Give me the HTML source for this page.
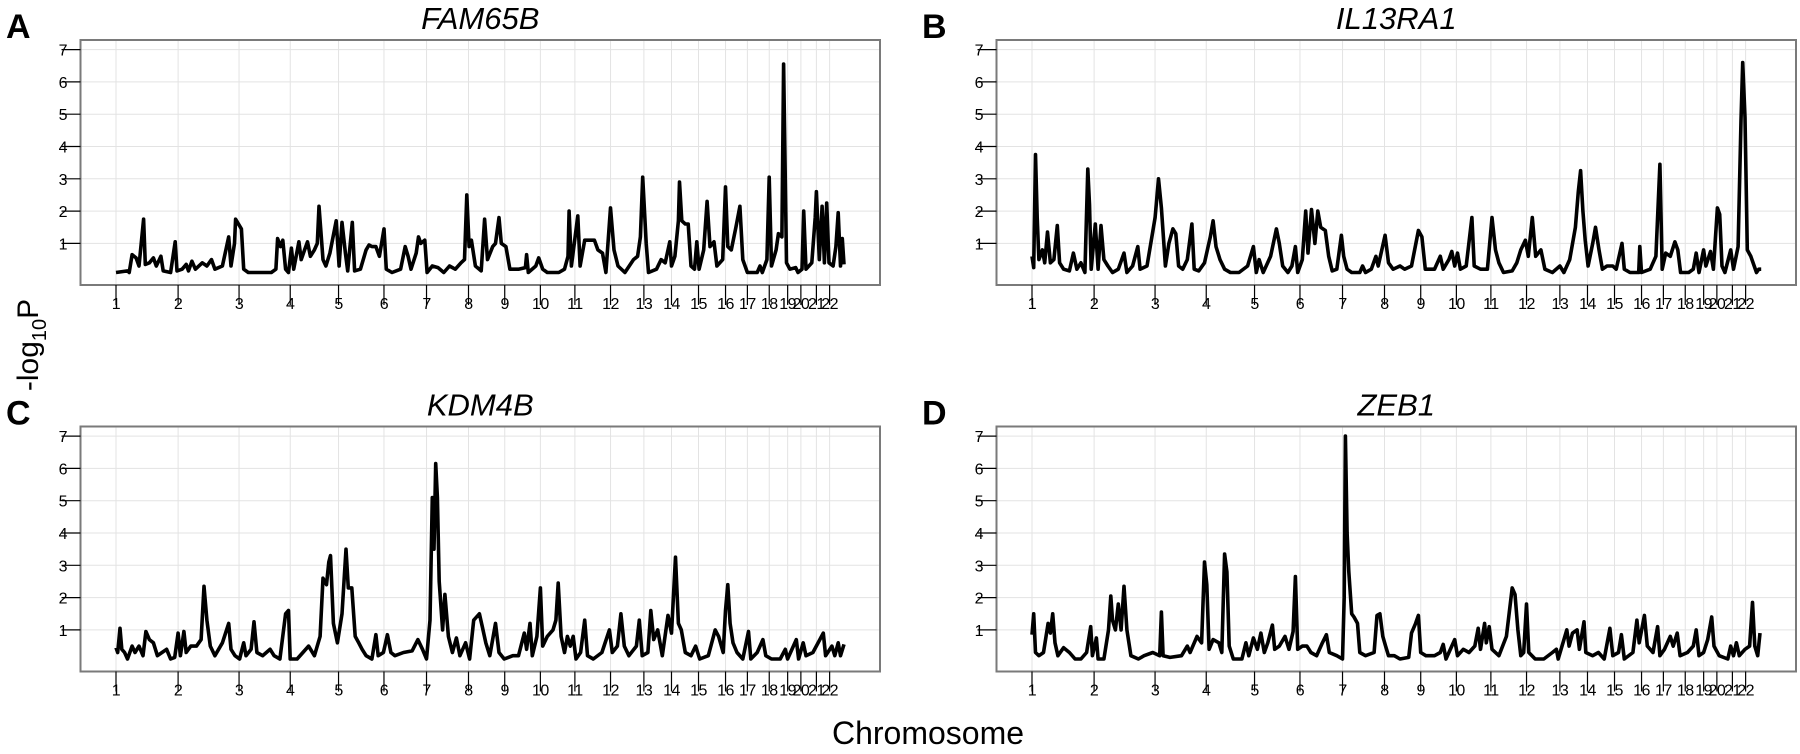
<!DOCTYPE html>
<html><head><meta charset="utf-8"><style>
html,body{margin:0;padding:0;background:#fff;}
svg{display:block;font-family:"Liberation Sans",Arial,sans-serif;}
</style></head><body>
<svg id="fig" width="1800" height="754" viewBox="0 0 1800 754" xmlns="http://www.w3.org/2000/svg">
<text x="928" y="744" font-size="32" text-anchor="middle">Chromosome</text>
<text transform="translate(38,345) rotate(-90)" font-size="30" text-anchor="middle">-log<tspan font-size="20" dy="8">10</tspan><tspan dy="-8">P</tspan></text>
</svg>
<script>
const chrLabels = ["1","2","3","4","5","6","7","8","9","10","11","12","13","14","15","16","17","18","19","20","21","22"];
const chrTicks = [0,108,214,303,387,466,540,613,676,738,798,860,918,966,1013,1060,1098,1136,1168,1191,1218,1241];
const yTicks = [1,2,3,4,5,6,7];
const panelTitles = ["FAM65B","IL13RA1","KDM4B","ZEB1"];
const panelLetters = ["A","B","C","D"];

const posA = [0,20,23,28,35,40,48,51,58,65,70,78,82,95,103,106,115,122,126,132,138,150,158,166,172,185,196,200,206,208,213,218,222,230,270,278,281,286,290,295,300,305,309,318,322,328,333,338,345,350,353,360,365,372,383,388,393,399,403,411,415,425,435,440,445,452,458,466,470,480,495,503,508,513,522,526,530,537,541,550,560,570,580,590,600,606,610,614,618,625,635,641,646,655,660,666,670,678,685,700,712,714,717,730,735,742,750,770,780,786,788,792,803,807,815,825,832,838,846,852,860,866,873,885,900,907,912,916,922,926,940,948,955,963,966,972,978,980,984,990,995,1000,1006,1010,1014,1022,1028,1033,1040,1045,1055,1060,1064,1070,1078,1085,1090,1098,1115,1120,1124,1132,1136,1140,1148,1152,1158,1161,1166,1172,1182,1186,1193,1196,1200,1210,1216,1218,1223,1228,1232,1236,1240,1247,1252,1256,1260,1263,1266];
const valA = [0.1,0.15,0.1,0.65,0.55,0.3,1.75,0.35,0.4,0.55,0.3,0.6,0.15,0.1,1.05,0.15,0.2,0.35,0.15,0.45,0.2,0.4,0.3,0.5,0.2,0.3,1.2,0.3,1.0,1.75,1.6,1.45,0.2,0.1,0.1,0.2,1.15,0.9,1.1,0.2,0.1,0.85,0.2,1.05,0.5,0.8,1.05,0.6,0.8,1.0,2.15,0.5,0.3,0.7,1.7,0.3,1.65,0.7,0.15,1.65,0.15,0.2,0.8,0.95,0.9,0.9,0.6,1.45,0.2,0.1,0.2,0.9,0.6,0.2,0.7,1.2,1.0,1.1,0.1,0.3,0.25,0.1,0.3,0.2,0.4,0.5,2.5,0.9,1.1,0.3,0.15,1.75,0.5,0.9,1.0,1.8,1.0,0.9,0.2,0.2,0.25,0.65,0.1,0.3,0.55,0.2,0.1,0.1,0.2,0.6,2.0,0.3,1.85,0.3,1.1,1.1,1.1,0.8,0.7,0.1,2.1,0.8,0.3,0.1,0.5,0.6,1.2,3.05,1.0,0.1,0.2,0.5,0.4,1.05,0.3,0.6,1.7,2.9,1.7,1.6,1.6,0.3,0.2,1.05,0.2,0.8,2.3,0.9,1.05,0.3,0.5,2.75,0.9,0.8,1.5,2.15,0.5,0.1,0.1,0.3,0.1,0.5,3.05,0.3,0.8,1.3,1.2,6.55,0.4,0.2,0.25,0.1,0.2,2.0,0.2,0.4,1.8,2.6,0.5,2.15,0.4,2.25,0.4,0.3,0.9,1.95,0.3,1.15,0.35];

const posB = [0,3,6,9,12,18,22,27,32,38,44,48,55,65,72,78,85,92,97,100,103,110,115,120,125,132,140,150,160,165,175,184,188,200,214,220,225,232,238,245,250,255,262,270,278,282,290,300,310,315,320,327,335,345,360,375,385,390,395,402,415,425,430,436,445,452,458,462,470,476,480,486,492,497,502,510,516,522,530,538,542,548,556,570,575,580,590,598,602,614,620,628,640,648,660,672,678,684,700,710,715,725,730,735,740,745,755,765,769,780,792,800,806,812,820,835,843,850,858,863,870,876,885,892,905,918,925,935,945,950,954,958,962,967,975,980,986,992,1000,1010,1016,1026,1030,1040,1055,1057,1060,1075,1085,1092,1096,1102,1110,1118,1123,1128,1142,1150,1155,1160,1168,1172,1180,1185,1192,1196,1200,1205,1215,1220,1228,1233,1236,1240,1244,1250,1256,1260,1264,1268];
const valB = [0.6,0.25,3.75,1.8,0.5,0.8,0.4,1.35,0.4,0.5,1.55,0.4,0.2,0.15,0.7,0.2,0.4,0.1,3.3,2.2,0.2,1.6,0.2,1.55,0.5,0.3,0.1,0.2,0.7,0.1,0.3,0.9,0.2,0.3,1.8,3.0,2.1,0.3,1.0,1.45,1.3,0.3,0.2,0.5,1.6,0.2,0.15,0.4,1.2,1.7,0.9,0.5,0.2,0.1,0.1,0.3,0.9,0.1,0.5,0.1,0.6,1.45,1.0,0.3,0.1,0.3,0.9,0.1,0.5,2.0,0.7,2.05,1.0,2.0,1.5,1.4,0.6,0.15,0.2,1.25,0.6,0.2,0.1,0.1,0.3,0.1,0.2,0.6,0.3,1.25,0.4,0.2,0.3,0.2,0.3,1.4,1.2,0.2,0.2,0.6,0.2,0.5,0.75,0.3,0.7,0.2,0.3,1.8,0.3,0.2,0.2,1.8,0.8,0.4,0.1,0.15,0.4,0.8,1.1,0.6,1.8,0.6,0.8,0.2,0.1,0.3,0.1,0.5,1.5,2.6,3.25,2.0,1.1,0.3,1.0,1.5,0.8,0.2,0.3,0.3,0.2,1.0,0.2,0.1,0.1,0.9,0.1,0.2,0.6,3.45,0.2,0.7,0.6,1.05,0.8,0.1,0.1,0.2,0.7,0.1,0.8,0.3,0.75,0.2,2.1,1.9,0.3,0.1,0.8,0.2,0.9,4.8,6.6,4.9,0.8,0.6,0.3,0.1,0.2,0.2];

const posC = [0,3,7,10,15,20,28,33,40,47,52,58,65,72,80,88,95,102,108,112,118,122,130,140,148,153,158,164,172,185,196,200,207,215,222,226,235,240,245,255,268,275,285,295,300,303,315,325,335,345,355,360,366,370,373,378,385,393,400,404,410,416,422,428,435,445,452,456,465,472,478,485,500,515,525,533,540,546,550,553,556,559,562,568,572,578,585,592,598,608,615,622,627,632,637,643,650,660,666,675,690,700,710,714,720,724,732,738,742,750,760,765,769,774,780,785,790,795,800,808,815,820,830,845,858,863,872,878,884,892,905,910,915,925,930,935,942,950,960,966,973,978,983,990,1000,1008,1015,1030,1042,1048,1056,1060,1064,1068,1073,1080,1090,1100,1104,1115,1125,1130,1140,1155,1164,1168,1183,1187,1195,1200,1212,1230,1234,1245,1250,1256,1260,1266];
const valC = [0.45,0.3,1.05,0.4,0.3,0.1,0.5,0.3,0.5,0.2,0.95,0.7,0.6,0.2,0.3,0.4,0.1,0.15,0.9,0.2,0.95,0.3,0.5,0.5,0.7,2.35,1.3,0.5,0.2,0.6,1.2,0.4,0.2,0.1,0.6,0.2,0.4,1.25,0.3,0.2,0.4,0.2,0.1,1.5,1.6,0.1,0.1,0.3,0.5,0.2,0.8,2.6,2.4,3.1,3.3,1.2,0.6,1.5,3.5,2.3,2.3,0.8,0.6,0.4,0.2,0.1,0.85,0.2,0.3,0.85,0.3,0.2,0.3,0.35,0.7,0.4,0.1,1.3,5.1,3.5,6.15,5.1,2.5,1.0,2.1,0.8,0.3,0.75,0.2,0.6,0.1,1.3,1.4,1.5,1.1,0.6,0.2,1.2,0.3,0.1,0.2,0.2,0.9,0.4,1.2,0.2,0.8,2.3,0.5,0.8,1.0,1.3,2.45,0.8,0.3,0.8,0.5,0.8,0.1,0.3,1.3,0.2,0.1,0.3,1.0,0.3,0.5,1.5,0.5,0.2,0.5,1.3,0.2,0.3,1.6,0.7,1.0,0.2,1.45,0.9,3.25,1.2,1.0,0.3,0.2,0.5,0.1,0.2,1.0,0.8,0.3,1.6,2.4,1.2,0.6,0.3,0.1,0.95,0.1,0.3,0.7,0.2,0.1,0.1,0.4,0.1,0.7,0.1,0.6,0.2,0.3,0.9,0.2,0.5,0.2,0.6,0.2,0.55];

const posD = [0,3,6,12,20,28,32,36,40,45,55,65,75,85,95,102,105,112,115,125,133,137,140,145,150,155,160,165,172,185,195,210,222,225,228,240,260,270,275,287,295,300,304,308,315,325,330,335,339,343,350,365,372,377,385,392,398,404,410,418,422,430,440,447,454,458,462,470,478,485,495,505,512,517,530,540,543,545,548,551,556,560,566,570,580,595,600,605,610,615,620,630,640,655,660,667,672,676,685,700,710,715,720,735,740,750,760,770,776,780,787,790,795,800,812,825,835,840,845,850,855,860,864,875,890,905,912,915,930,934,940,948,952,960,963,975,985,995,1005,1010,1020,1025,1030,1045,1052,1056,1065,1070,1080,1088,1092,1100,1110,1115,1122,1127,1140,1150,1155,1160,1168,1175,1182,1186,1195,1210,1215,1220,1225,1230,1240,1248,1253,1257,1262,1266];
const valD = [0.85,1.5,0.3,0.2,0.3,1.2,0.9,1.5,0.6,0.2,0.45,0.3,0.1,0.1,0.3,1.1,0.2,0.75,0.1,0.1,1.0,2.05,1.3,1.0,1.8,1.0,2.35,1.0,0.2,0.1,0.2,0.3,0.2,1.55,0.2,0.15,0.2,0.5,0.3,0.8,0.6,3.1,2.4,0.4,0.7,0.6,0.3,3.35,2.8,0.5,0.1,0.1,0.6,0.2,0.75,0.4,0.9,0.3,0.6,1.15,0.4,0.5,0.8,0.4,0.95,2.65,0.4,0.5,0.5,0.3,0.2,0.6,0.85,0.3,0.2,0.1,2.0,7.0,4.0,2.8,1.5,1.4,1.2,0.3,0.2,0.3,1.45,1.5,0.8,0.5,0.2,0.2,0.1,0.15,0.9,1.2,1.45,0.3,0.2,0.2,0.3,0.55,0.1,0.7,0.2,0.4,0.3,0.5,1.05,0.4,1.2,0.6,1.1,0.4,0.2,0.8,2.3,2.1,1.0,0.2,0.3,1.8,0.3,0.1,0.1,0.3,0.4,0.1,1.0,0.5,0.9,1.0,0.4,1.25,0.3,0.2,0.3,0.1,1.05,0.2,0.3,0.85,0.1,0.3,1.3,0.6,1.45,0.5,0.3,1.1,0.2,0.4,0.8,0.5,0.9,0.2,0.3,0.5,1.0,0.2,0.3,0.7,1.4,0.5,0.2,0.1,0.5,0.2,0.6,0.2,0.4,0.5,1.85,0.5,0.2,0.9];

const seriesPos = [posA,posB,posC,posD];
const seriesVal = [valA,valB,valC,valD];

const NS = "http://www.w3.org/2000/svg";
const svg = document.getElementById("fig");
function mk(tag, attrs, parent){
  const e = document.createElementNS(NS, tag);
  for (const k in attrs) e.setAttribute(k, attrs[k]);
  (parent||svg).appendChild(e);
  return e;
}
const domainMax = 1266;
const unitPx = 32.3;
for (let p = 0; p < 4; p++) {
  const dx = (p % 2) * 916;
  const dy = p < 2 ? 0 : 386.5;
  const x0 = 116 + dx, x1 = 844 + dx;
  const xs = v => x0 + v * (x1 - x0) / domainMax;
  const zeroY = 275.7 + dy;
  const ys = v => zeroY - v * unitPx;
  const boxL = 80.5 + dx, boxR = 880 + dx, boxT = 40 + dy, boxB = 285 + dy;

  const g = mk("g", {});
  
  

  const letter = mk("text", {x: 6 + dx, y: 38 + dy, "font-size": 34, "font-weight": "bold"}, g);
  letter.textContent = panelLetters[p];
  
  

  const title = mk("text", {x: (boxL + boxR) / 2, y: 29 + dy, "font-size": 31, "font-style": "italic", "text-anchor": "middle"}, g);
  title.textContent = panelTitles[p];
  
  

  const grid = mk("g", {stroke: "#e3e3e3", "stroke-width": 1}, g);
  
  
  chrTicks.forEach(t => mk("line", {x1: xs(t), x2: xs(t), y1: boxT, y2: boxB}, grid));
  yTicks.forEach(t => mk("line", {x1: boxL, x2: boxR, y1: ys(t), y2: ys(t)}, grid));

  const box = mk("rect", {x: boxL, y: boxT, width: boxR - boxL, height: boxB - boxT, fill: "none", stroke: "#7a7a7a", "stroke-width": 2}, g);
  
  

  const yax = mk("g", {}, g);
  
  
  yTicks.forEach(t => {
    mk("line", {x1: boxL - 19, x2: boxL, y1: ys(t), y2: ys(t), stroke: "#000", "stroke-width": 1.2}, yax);
    const tl = mk("text", {x: boxL - 13, y: ys(t) + 6, "font-size": 16, "text-anchor": "end"}, yax);
    tl.textContent = t;
    
    
  });

  const xax = mk("g", {}, g);
  
  
  chrTicks.forEach((t, i) => {
    mk("line", {x1: xs(t), x2: xs(t), y1: boxB, y2: boxB + 20, stroke: "#000", "stroke-width": 1.2}, xax);
    const tl = mk("text", {x: xs(t), y: boxB + 24, "font-size": 16, "text-anchor": "middle", "letter-spacing": "-0.5"}, xax);
    tl.textContent = chrLabels[i];
    
    
  });

  const pos = seriesPos[p], val = seriesVal[p];
  let d = "";
  for (let i = 0; i < pos.length; i++) d += (i ? "L" : "M") + xs(pos[i]).toFixed(1) + "," + ys(val[i]).toFixed(1);
  const line = mk("path", {d: d, fill: "none", stroke: "#000", "stroke-width": 3.6, "stroke-linejoin": "round"}, g);
  
  
}
</script>
</body></html>
